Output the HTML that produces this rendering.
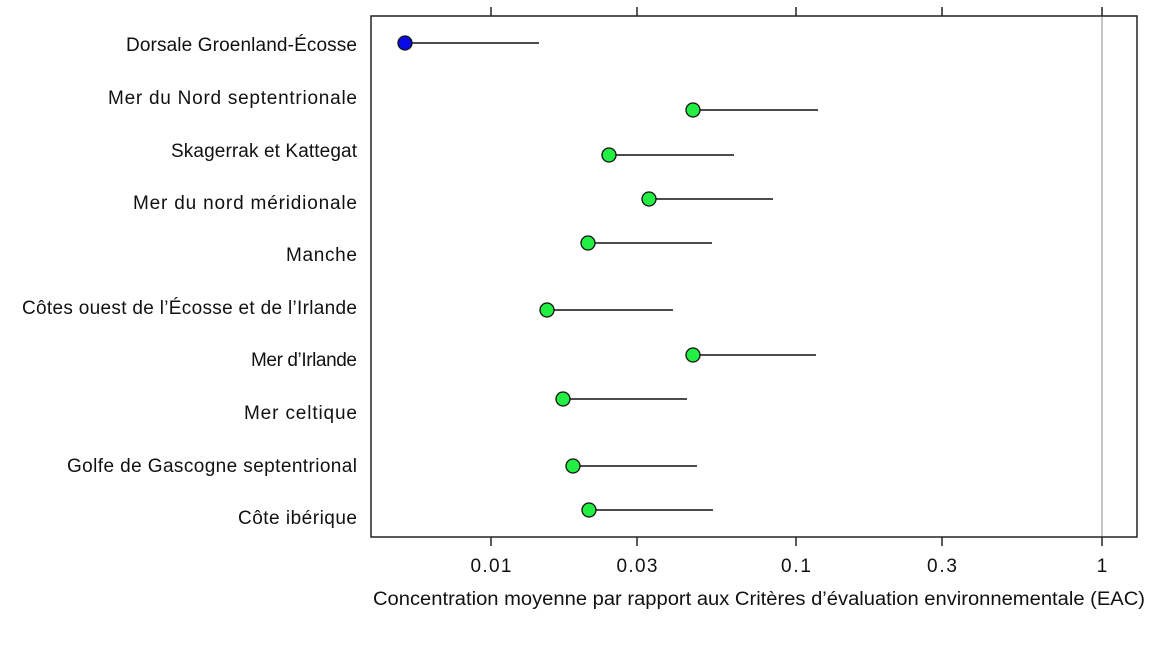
<!DOCTYPE html>
<html><head><meta charset="utf-8"><style>
body{margin:0;background:#fff}
text{font-family:"Liberation Sans",sans-serif;font-size:19px;fill:#111}
</style></head><body>
<svg width="1170" height="647" xmlns="http://www.w3.org/2000/svg">
<line x1="1102" y1="16" x2="1102" y2="537" stroke="#b0b0b0" stroke-width="1.5"/>
<rect x="371" y="16" width="766" height="521" fill="none" stroke="#222" stroke-width="1.5"/>
<g stroke="#222" stroke-width="1.5">
<line x1="491" y1="7" x2="491" y2="16"/><line x1="637" y1="7" x2="637" y2="16"/><line x1="796" y1="7" x2="796" y2="16"/><line x1="942" y1="7" x2="942" y2="16"/><line x1="1102" y1="7" x2="1102" y2="16"/>
<line x1="491" y1="537" x2="491" y2="546"/><line x1="637" y1="537" x2="637" y2="546"/><line x1="796" y1="537" x2="796" y2="546"/><line x1="942" y1="537" x2="942" y2="546"/><line x1="1102" y1="537" x2="1102" y2="546"/>
</g>
<g text-anchor="middle">
<text x="491" y="572" textLength="41">0.01</text><text x="637" y="572" textLength="41">0.03</text><text x="796" y="572" textLength="30">0.1</text><text x="942" y="572" textLength="30">0.3</text><text x="1102" y="572">1</text>
</g>
<text x="373" y="605" textLength="772" lengthAdjust="spacingAndGlyphs">Concentration moyenne  par rapport aux Critères d’évaluation environnementale (EAC)</text>
<g lengthAdjust="spacingAndGlyphs">
<text x="126" y="51" textLength="231">Dorsale Groenland-Écosse</text>
<text x="108" y="104" textLength="249">Mer du Nord septentrionale</text>
<text x="171" y="157" textLength="186">Skagerrak et Kattegat</text>
<text x="133" y="209" textLength="224">Mer du nord méridionale</text>
<text x="286" y="261" textLength="71">Manche</text>
<text x="22" y="314" textLength="335">Côtes ouest de l’Écosse et de l’Irlande</text>
<text x="251" y="366" textLength="106">Mer d’Irlande</text>
<text x="244" y="419" textLength="113">Mer celtique</text>
<text x="67" y="472" textLength="290">Golfe de Gascogne septentrional</text>
<text x="238" y="524" textLength="119">Côte ibérique</text>
</g>
<g stroke="#111" stroke-width="1.5">
<line x1="405" y1="43" x2="539" y2="43"/>
<line x1="693" y1="110" x2="818" y2="110"/>
<line x1="609" y1="155" x2="734" y2="155"/>
<line x1="649" y1="199" x2="773" y2="199"/>
<line x1="588" y1="243" x2="712" y2="243"/>
<line x1="547" y1="310" x2="673" y2="310"/>
<line x1="693" y1="355" x2="816" y2="355"/>
<line x1="563" y1="399" x2="687" y2="399"/>
<line x1="573" y1="466" x2="697" y2="466"/>
<line x1="589" y1="510" x2="713" y2="510"/>
</g>
<g stroke="#111" stroke-width="1.3">
<circle cx="405" cy="43" r="7" fill="#0a0ae6"/>
<g fill="#22ee44">
<circle cx="693" cy="110" r="7"/><circle cx="609" cy="155" r="7"/><circle cx="649" cy="199" r="7"/><circle cx="588" cy="243" r="7"/><circle cx="547" cy="310" r="7"/><circle cx="693" cy="355" r="7"/><circle cx="563" cy="399" r="7"/><circle cx="573" cy="466" r="7"/><circle cx="589" cy="510" r="7"/>
</g></g>
</svg>
</body></html>
